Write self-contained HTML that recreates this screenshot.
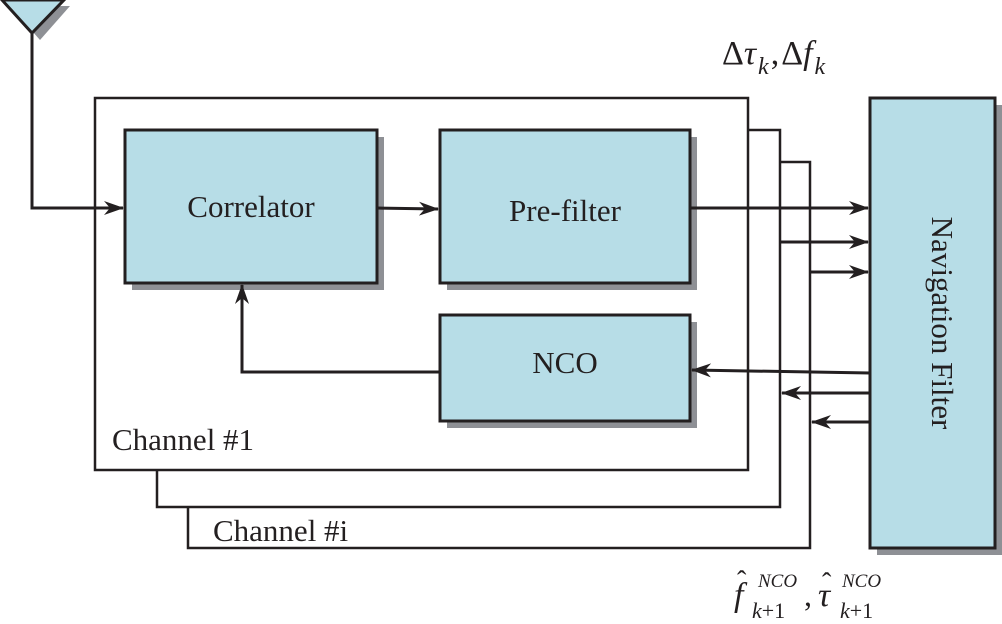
<!DOCTYPE html>
<html><head><meta charset="utf-8"><style>
html,body{margin:0;padding:0;background:#fff;}
svg{display:block;}
svg text{font-family:"Liberation Serif","Noto Serif CJK SC","DejaVu Serif",serif;fill:#231f20;}
</style></head><body>
<svg width="1002" height="624" viewBox="0 0 1002 624" xmlns="http://www.w3.org/2000/svg">
<defs>
<marker id="a" markerWidth="20" markerHeight="14" refX="19" refY="7" orient="auto" markerUnits="userSpaceOnUse">
<path d="M0,0 L20,7 L0,14 L6,7 Z" fill="#231f20"/>
</marker>
</defs>
<g fill="none" stroke="#231f20" stroke-width="2.5">
<rect x="95" y="98" width="653" height="372" fill="#fff"/>
<polyline points="748,130 780,130 780,507 157,507 157,470"/>
<polyline points="780,162 810,162 810,548 188,548 188,507"/>
</g>
<polygon points="10,6 70,6 40,40" fill="#8e9095"/>
<polygon points="2,0 64,0 32,33" fill="#b7dde7" stroke="#231f20" stroke-width="3"/>
<rect x="132" y="137" width="252" height="153" fill="#8e9095"/>
<rect x="447" y="137" width="250" height="153" fill="#8e9095"/>
<rect x="447" y="322" width="250" height="106" fill="#8e9095"/>
<rect x="877" y="105" width="125" height="450" fill="#8e9095"/>
<g stroke="#231f20" stroke-width="3" fill="#b7dde7">
<rect x="125" y="130" width="252" height="153"/>
<rect x="440" y="130" width="250" height="153"/>
<rect x="440" y="315" width="250" height="106"/>
<rect x="870" y="98" width="125" height="450"/>
</g>
<g fill="none" stroke="#231f20" stroke-width="3">
<polyline points="32,33 32,208 123,208" marker-end="url(#a)"/>
<line x1="377" y1="208" x2="438" y2="209" marker-end="url(#a)"/>
<polyline points="440,372 242,372 242,285" marker-end="url(#a)"/>
<line x1="690" y1="208" x2="868" y2="208" marker-end="url(#a)"/>
<line x1="780" y1="242" x2="868" y2="242" marker-end="url(#a)"/>
<line x1="810" y1="272" x2="868" y2="272" marker-end="url(#a)"/>
<line x1="870" y1="373" x2="692" y2="370" marker-end="url(#a)"/>
<line x1="870" y1="393" x2="782" y2="393" marker-end="url(#a)"/>
<line x1="870" y1="422" x2="812" y2="422" marker-end="url(#a)"/>
</g>
<text x="251" y="217" font-size="31" text-anchor="middle">Correlator</text>
<text x="565" y="221" font-size="31" text-anchor="middle">Pre-filter</text>
<text x="565" y="373" font-size="31" text-anchor="middle">NCO</text>
<text x="112" y="450" font-size="31">Channel #1</text>
<text x="213" y="541" font-size="31">Channel #i</text>
<text font-size="31" transform="translate(932,323) rotate(90)" text-anchor="middle">Navigation Filter</text>
<text x="722" y="64" font-size="34">Δ<tspan font-style="italic">τ</tspan><tspan font-style="italic" font-size="24" dx="2" dy="10">k</tspan><tspan dy="-10" dx="2">,</tspan><tspan dx="2">Δ</tspan><tspan font-style="italic">f</tspan><tspan font-style="italic" font-size="24" dx="2" dy="10">k</tspan></text>
<text x="734" y="606" font-size="34" font-style="italic">f</text>
<text x="737" y="590" font-size="28">ˆ</text>
<text x="752" y="618" font-size="22" font-style="italic">k<tspan font-style="normal">+1</tspan></text>
<text x="758" y="587" font-size="19" font-style="italic">NCO</text>
<text x="804" y="606" font-size="32">,</text>
<text x="818" y="606" font-size="34" font-style="italic">τ</text>
<text x="822" y="592" font-size="28">ˆ</text>
<text x="840" y="618" font-size="22" font-style="italic">k<tspan font-style="normal">+1</tspan></text>
<text x="842" y="587" font-size="19" font-style="italic">NCO</text>
</svg>
</body></html>
